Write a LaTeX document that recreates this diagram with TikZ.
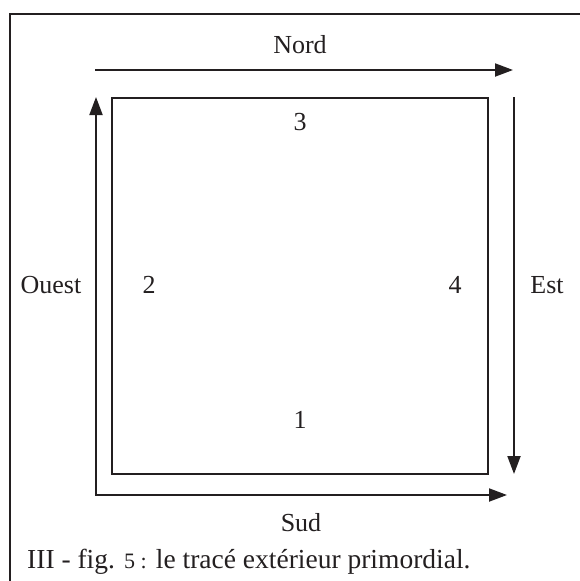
\documentclass[tikz,border=0pt]{standalone}
\usepackage{fontspec}
\setmainfont{Liberation Serif}
\usetikzlibrary{arrows.meta}
\definecolor{ink}{HTML}{231F20}
\tikzset{
  lbl/.style={inner sep=0pt, anchor=base, text=ink, font=\fontsize{26}{30}\selectfont},
  ln/.style={draw=ink, line width=2pt},
  arr/.style={ln, -{Triangle[length=18pt,width=13pt]}},
  arrboth/.style={ln, {Triangle[length=18pt,width=13pt]}-{Triangle[length=18pt,width=13pt]}, line join=miter},
}
\begin{document}
\begin{tikzpicture}[x=1pt,y=-1pt]
\useasboundingbox (0,0) rectangle (579,581);
% outer frame (top and left)
\coordinate (fb) at (10,582);
\coordinate (fc) at (10,14);
\coordinate (fr) at (580,14);
\draw[ln, line join=miter] (fb) -- (fc) -- (fr);
% inner square
\coordinate (sq1) at (112,98);
\coordinate (sq2) at (488,474);
\draw[ln] (sq1) rectangle (sq2);
% arrows
\coordinate (nA) at (95,70);
\coordinate (nB) at (513,70);
\draw[arr] (nA) -- (nB);
\coordinate (oT) at (96,97);
\coordinate (cor) at (96,495);
\coordinate (sE) at (507,495);
\draw[arrboth] (oT) -- (cor) -- (sE);
\coordinate (eA) at (514,97);
\coordinate (eB) at (514,474);
\draw[arr] (eA) -- (eB);
% labels
\node[lbl] (nord) at (300,53) {Nord};
\node[lbl] (n3) at (300,130) {3};
\node[lbl] (ouest) at (51,293) {Ouest};
\node[lbl] (n2) at (149,293) {2};
\node[lbl] (n4) at (455,293) {4};
\node[lbl] (est) at (547,293) {Est};
\node[lbl] (n1) at (300,428) {1};
\node[lbl] (sud) at (301,531) {Sud};
\node[inner sep=0pt, anchor=base west, text=ink, font=\fontsize{27.5}{32}\selectfont] (cap) at (27,568)
  {III - fig. {\fontsize{22}{26}\selectfont 5 :} le tracé extérieur primordial.};
\end{tikzpicture}
\end{document}
